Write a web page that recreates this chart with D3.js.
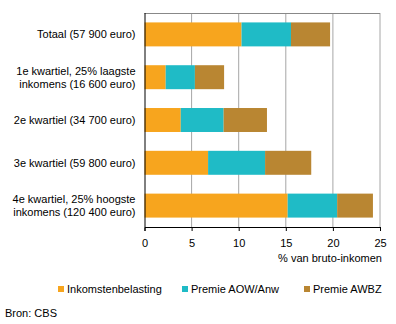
<!DOCTYPE html>
<html>
<head>
<meta charset="utf-8">
<script src="https://cdn.jsdelivr.net/npm/d3@7"></script>
<style>
  body { margin: 0; background: #fff; }
  svg text { font-family: "Liberation Sans", Arial, sans-serif; font-size: 11px; fill: #000; }
</style>
</head>
<body>
<svg id="chart" width="396" height="324"></svg>
<script>
// income groups, each label split in lines
var groups = [
    ["Totaal (57 900 euro)"],
    ["1e kwartiel, 25% laagste", "inkomens (16 600 euro)"],
    ["2e kwartiel (34 700 euro)"],
    ["3e kwartiel (59 800 euro)"],
    ["4e kwartiel, 25% hoogste", "inkomens (120 400 euro)"]
];
var seriesNames = ["Inkomstenbelasting", "Premie AOW/Anw", "Premie AWBZ"];
var inkomstenbelasting = [10.3, 2.25, 3.85, 6.75, 15.2];
var premieAOW = [5.25, 3.1, 4.55, 6.05, 5.25];
var premieAWBZ = [4.15, 3.1, 4.6, 4.9, 3.8];
var xTicks = [0, 5, 10, 15, 20, 25];
var colors = ["#f7a51e", "#1fbbc6", "#b98632"];

var margin = {top: 13, right: 16, bottom: 97, left: 144.5};
var width = 396, height = 324;
var w = width - margin.left - margin.right;
var h = height - margin.top - margin.bottom;

var svg = d3.select("#chart");
var g = svg.append("g")
    .attr("transform", "translate(" + margin.left + "," + margin.top + ")");

var x = d3.scaleLinear().domain([0, 25]).range([0, w]);
var y = d3.scaleBand().domain(d3.range(groups.length)).range([0, h]).paddingInner(0.44).paddingOuter(0.22);

// gridlines
g.selectAll("line.grid")
    .data(xTicks.slice(1))
    .enter().append("line")
    .attr("x1", function(d) { return x(d); })
    .attr("x2", function(d) { return x(d); })
    .attr("y1", 0).attr("y2", h)
    .style("stroke", "#a6a6a6");

// frame top
g.append("line")
    .attr("x1", 0).attr("x2", w).attr("y1", 0.5).attr("y2", 0.5)
    .style("stroke", "#888");

// stacked bars
var rows = groups.map(function(d, i) {
    return {i: i, vals: [inkomstenbelasting[i], premieAOW[i], premieAWBZ[i]]};
});
rows.forEach(function(r) {
    var start = 0;
    r.vals.forEach(function(v, k) {
        g.append("rect")
            .attr("x", x(start))
            .attr("y", y(r.i))
            .attr("width", x(start + v) - x(start))
            .attr("height", y.bandwidth())
            .style("fill", colors[k]);
        start += v;
    });
});

// x axis
var xAxis = d3.axisBottom(x).tickValues(xTicks).tickSize(4).tickPadding(6);
var ax = g.append("g")
    .attr("transform", "translate(0," + h + ")")
    .call(xAxis);
ax.select(".domain").style("stroke", "#000");
ax.selectAll(".tick line").style("stroke", "#000");
ax.selectAll("text").style("font-size", "11px").attr("dy", "0.9em");

// left axis line
g.append("line")
    .attr("x1", 0.5).attr("x2", 0.5).attr("y1", 0).attr("y2", h)
    .style("stroke", "#000");

g.append("text")
    .attr("x", w + 2)
    .attr("y", h + 35)
    .style("text-anchor", "end")
    .text("% van bruto-inkomen");

// category labels
groups.forEach(function(lines, i) {
    var cy = y(i) + y.bandwidth() / 2;
    var t = g.append("text")
        .attr("x", -9)
        .attr("y", cy - (lines.length - 1) * 6.5)
        .style("text-anchor", "end");
    lines.forEach(function(l, j) {
        t.append("tspan")
            .attr("x", -9)
            .attr("dy", j === 0 ? "0.35em" : "13px")
            .text(l);
    });
});

// legend
var legendX = [58, 182, 304];
var legend = svg.append("g");
seriesNames.forEach(function(name, k) {
    legend.append("rect")
        .attr("x", legendX[k]).attr("y", 286)
        .attr("width", 6).attr("height", 6)
        .style("fill", colors[k]);
    legend.append("text")
        .attr("x", legendX[k] + 9).attr("y", 289)
        .attr("dy", "0.35em")
        .text(name);
});

svg.append("text")
    .attr("x", 5).attr("y", 313)
    .attr("dy", "0.35em")
    .text("Bron: CBS");
</script>
</body>
</html>
